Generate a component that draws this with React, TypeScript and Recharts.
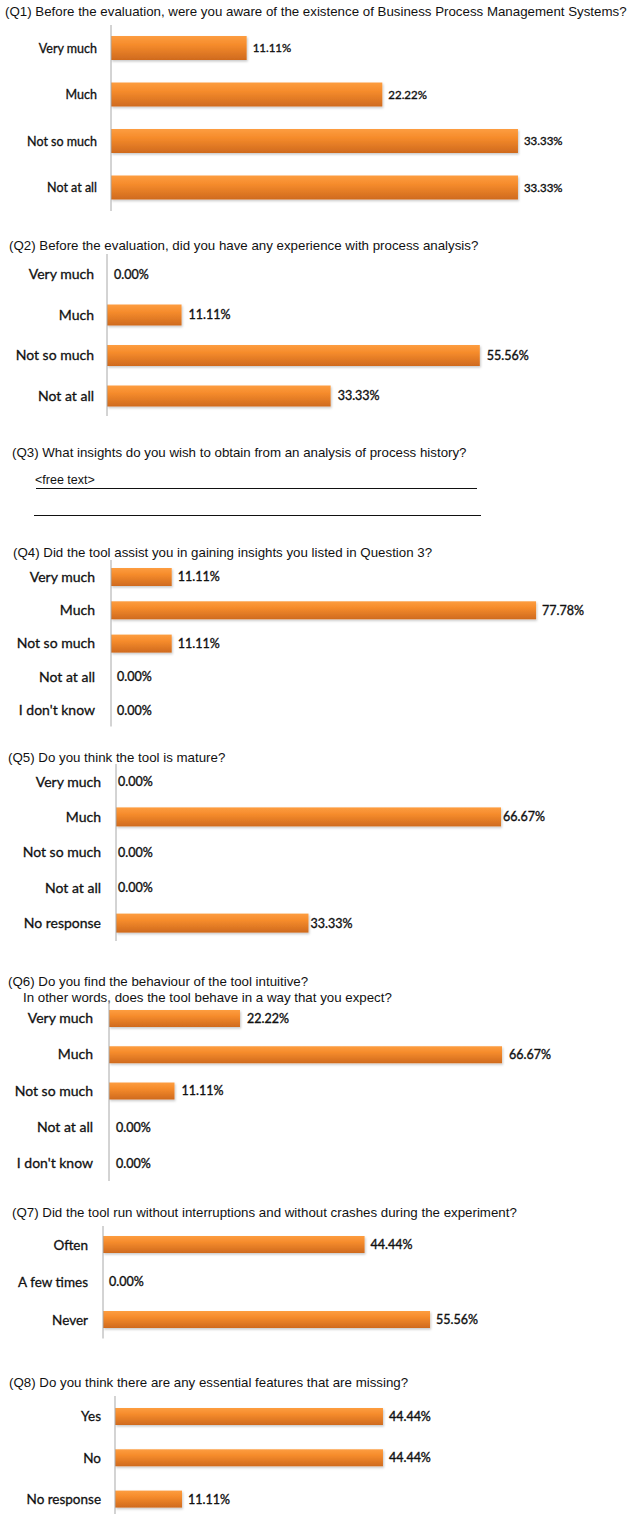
import { Bar, BarChart, LabelList, XAxis, YAxis } from "recharts";

// survey answers, percentages of respondents
const q1Categories = ["Very much", "Much", "Not so much", "Not at all"];
const q1Values = [11.11, 22.22, 33.33, 33.33];

const q2Categories = ["Very much", "Much", "Not so much", "Not at all"];
const q2Values = [0, 11.11, 55.56, 33.33];

const q4Categories = ["Very much", "Much", "Not so much", "Not at all", "I don't know"];
const q4Values = [11.11, 77.78, 11.11, 0, 0];

const q5Categories = ["Very much", "Much", "Not so much", "Not at all", "No response"];
const q5Values = [0, 66.67, 0, 0, 33.33];

const q6Categories = ["Very much", "Much", "Not so much", "Not at all", "I don't know"];
const q6Values = [22.22, 66.67, 11.11, 0, 0];

const q7Categories = ["Often", "A few times", "Never"];
const q7Values = [44.44, 0, 55.56];

const q8Categories = ["Yes", "No", "No response"];
const q8Values = [44.44, 44.44, 11.11];

const titles = [
  { text: "(Q1) Before the evaluation, were you aware of the existence of Business Process Management Systems?", x: 5, cy: 12 },
  { text: "(Q2) Before the evaluation, did you have any experience with process analysis?", x: 9, cy: 246 },
  { text: "(Q3) What insights do you wish to obtain from an analysis of process history?", x: 12, cy: 453 },
  { text: "(Q4) Did the tool assist you in gaining insights you listed in Question 3?", x: 13, cy: 553 },
  { text: "(Q5) Do you think the tool is mature?", x: 8, cy: 758 },
  { text: "(Q6) Do you find the behaviour of the tool intuitive?", x: 8, cy: 982 },
  { text: "In other words, does the tool behave in a way that you expect?", x: 23, cy: 998 },
  { text: "(Q7) Did the tool run without interruptions and without crashes during the experiment?", x: 12, cy: 1213 },
  { text: "(Q8) Do you think there are any essential features that are missing?", x: 9, cy: 1383 },
];

const CHART_W = 627;
const RIGHT = 20;

interface Panel {
  id: string;
  categories: string[];
  values: number[];
  plotTop: number;
  spacing: number;
  axisX: number;
  pxPerPct: number;
  barSize: number;
  catFont: number;
  valFont: number;
  gap: number;
  valOffset: number;
}

const panels: Panel[] = [
  { id: "q1", categories: q1Categories, values: q1Values, plotTop: 24.75, spacing: 46.5, axisX: 111, pxPerPct: 12.21, barSize: 24, catFont: 12.5, valFont: 11.5, gap: 14, valOffset: 6 },
  { id: "q2", categories: q2Categories, values: q2Values, plotTop: 253.75, spacing: 40.5, axisX: 107, pxPerPct: 6.71, barSize: 21, catFont: 14, valFont: 12.5, gap: 13, valOffset: 7 },
  { id: "q4", categories: q4Categories, values: q4Values, plotTop: 560.3, spacing: 33.3, axisX: 111, pxPerPct: 5.465, barSize: 18, catFont: 14, valFont: 12.5, gap: 16, valOffset: 6 },
  { id: "q5", categories: q5Categories, values: q5Values, plotTop: 763.5, spacing: 35.4, axisX: 116, pxPerPct: 5.775, barSize: 19, catFont: 14, valFont: 12.5, gap: 15, valOffset: 2 },
  { id: "q6", categories: q6Categories, values: q6Values, plotTop: 1000, spacing: 36.25, axisX: 109, pxPerPct: 5.895, barSize: 17, catFont: 14, valFont: 12.5, gap: 16, valOffset: 7 },
  { id: "q7", categories: q7Categories, values: q7Values, plotTop: 1226, spacing: 37.5, axisX: 103, pxPerPct: 5.886, barSize: 17, catFont: 13.5, valFont: 12.5, gap: 15, valOffset: 6 },
  { id: "q8", categories: q8Categories, values: q8Values, plotTop: 1396, spacing: 41.3, axisX: 115, pxPerPct: 6.03, barSize: 17, catFont: 13.5, valFont: 12.5, gap: 14, valOffset: 6 },
];

const catFamily = "Lato, 'Open Sans', sans-serif";
const titleFamily = "'Liberation Sans', Arial, sans-serif";

function OrangeBar(props: any) {
  const { x, y, width, height, gid } = props;
  if (!width || width <= 0) return null;
  return <rect x={x} y={y} width={width} height={height} fill={`url(#${gid})`} filter={`url(#${gid}-sh)`} />;
}

function SurveyChart({ p }: { p: Panel }) {
  const data = p.categories.map((name, i) => ({ name, value: p.values[i] }));
  const plotH = p.spacing * p.categories.length;
  const plotW = CHART_W - p.axisX - RIGHT;
  const maxPct = plotW / p.pxPerPct;
  return (
    <div style={{ position: "absolute", left: 0, top: p.plotTop }}>
      <BarChart
        width={CHART_W}
        height={plotH}
        data={data}
        layout="vertical"
        margin={{ top: 0, right: RIGHT, bottom: 0, left: 0 }}
      >
        <defs>
          <linearGradient id={p.id} x1="0" y1="0" x2="0" y2="1">
            <stop offset="0%" stopColor="#fd9d40" />
            <stop offset="35%" stopColor="#f68c2c" />
            <stop offset="100%" stopColor="#cf6a1e" />
          </linearGradient>
          <filter id={`${p.id}-sh`} x="-5%" y="-30%" width="110%" height="170%">
            <feDropShadow dx="1" dy="1.5" stdDeviation="1" floodColor="#000" floodOpacity="0.22" />
          </filter>
        </defs>
        <XAxis type="number" hide domain={[0, maxPct]} allowDataOverflow />
        <YAxis
          type="category"
          dataKey="name"
          width={p.axisX}
          tickLine={false}
          tickSize={0}
          tickMargin={p.gap}
          axisLine={{ stroke: "#a8a8a8", strokeWidth: 1 }}
          tick={{ fill: "#111", stroke: "#111", strokeWidth: 0.3, fontSize: p.catFont, fontFamily: catFamily }}
          interval={0}
        />
        <Bar
          dataKey="value"
          barSize={p.barSize}
          isAnimationActive={false}
          shape={(sp: any) => <OrangeBar {...sp} gid={p.id} />}
        >
          <LabelList
            dataKey="value"
            position="right"
            offset={p.valOffset}
            formatter={(v: any) => `${Number(v).toFixed(2)}%`}
            style={{ fill: "#111", stroke: "#111", strokeWidth: 0.35, fontSize: p.valFont, fontFamily: catFamily }}
          />
        </Bar>
      </BarChart>
    </div>
  );
}

export default function App() {
  return (
    <div
      style={{
        position: "absolute",
        left: 0,
        top: 0,
        width: 627,
        height: 1514,
        background: "#fff",
        overflow: "hidden",
      }}
    >
      {titles.map((t) => (
        <div
          key={t.text}
          style={{
            position: "absolute",
            left: t.x,
            top: t.cy - 7,
            fontFamily: titleFamily,
            fontSize: 13.3,
            lineHeight: "14px",
            color: "#111",
            whiteSpace: "nowrap",
          }}
        >
          {t.text}
        </div>
      ))}

      {/* Q3 is free text, only the answer lines are drawn */}
      <div
        style={{
          position: "absolute",
          left: 35,
          top: 473,
          fontFamily: titleFamily,
          fontSize: 12.5,
          lineHeight: "14px",
          color: "#111",
        }}
      >
        {"<free text>"}
      </div>
      <div style={{ position: "absolute", left: 36, top: 488, width: 441, height: 1, background: "#111" }} />
      <div style={{ position: "absolute", left: 34, top: 515, width: 447, height: 1, background: "#111" }} />

      {panels.map((p) => (
        <SurveyChart key={p.id} p={p} />
      ))}
    </div>
  );
}
